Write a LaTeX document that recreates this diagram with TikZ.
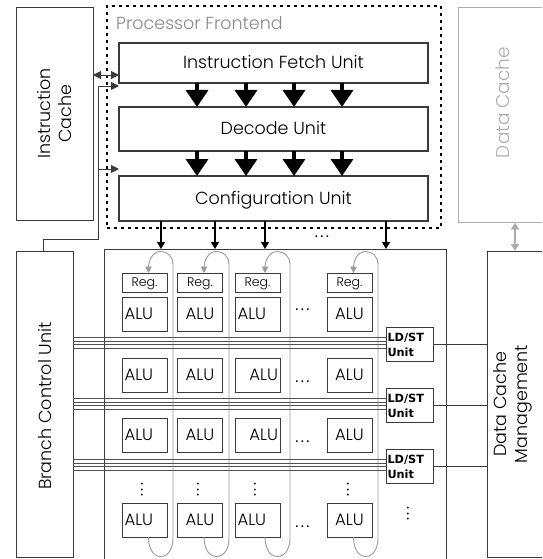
\documentclass[tikz,border=0pt]{standalone}
\usepackage{fontspec}
\setmainfont{Poppins}[UprightFont=* Light]
\newfontfamily\ldstfont{DejaVu Sans}
\newfontfamily\dotfont{Poppins}
\usetikzlibrary{arrows.meta,calc}
\definecolor{edge}{HTML}{3A3A3A}
\definecolor{pale}{HTML}{ADADAD}
\definecolor{loopc}{HTML}{9A9A9A}
\definecolor{titlec}{HTML}{8A8A8A}
\definecolor{busc}{HTML}{505050}
\begin{document}
\begin{tikzpicture}[x=1pt,y=-1pt,
  box/.style={draw=edge, line width=1pt, inner sep=0pt, outer sep=0pt},
  unitbox/.style={box, line width=1.3pt, minimum width=309pt, text height=12pt, text depth=0pt, font=\fontsize{17.5}{21}\selectfont},
  alubox/.style={box, minimum width=45pt, minimum height=34pt, text height=11pt, text depth=0pt, font=\fontsize{16.5}{19}\selectfont},
  aluL/.style={alubox, text width=40pt, align=left},
  aluR/.style={alubox, text width=41pt, align=right},
  regbox/.style={box, minimum width=45pt, minimum height=19pt, text height=8.8pt, text depth=0pt, font=\fontsize{12.5}{14}\selectfont},
  ldstbox/.style={box, minimum width=47pt, minimum height=34pt, text width=44pt, align=left, font=\ldstfont\bfseries\fontsize{11.3}{15}\selectfont},
  bigtext/.style={font=\fontsize{17.5}{21}\selectfont, inner sep=0pt},
  bigarrow/.style={draw=black, line width=3.5pt, -{Triangle[width=22pt,length=17pt]}},
  thinarrow/.style={draw=black, line width=1.1pt, -{Triangle[width=8pt,length=7pt]}},
  looparrow/.style={draw=loopc, line width=0.9pt, -{Triangle[width=6.5pt,length=6.5pt]}},
  bus/.style={draw=busc, line width=0.8pt},
  link/.style={draw=edge, line width=0.9pt},
  hdots/.style={font=\dotfont\fontsize{15}{16}\selectfont, inner sep=0pt},
]
\clip (0,0) rectangle (542,559);

% ---------- frontend ----------
\node[draw=black, line width=1.4pt, dash pattern=on 3pt off 4pt, minimum width=334pt, minimum height=222pt, inner sep=0pt] (frontend) at (274,117) {};
\node[anchor=base west, text=titlec, font=\fontsize{17.5}{20}\selectfont, inner sep=0pt] (fetitle) at (116,30) {Processor Frontend};
\node[unitbox, minimum height=40pt] (fetch) at (273.5,63) {Instruction Fetch Unit};
\node[unitbox, minimum height=44pt] (decode) at (273.5,129) {Decode Unit};
\node[unitbox, minimum height=45pt] (config) at (273.5,198.5) {Configuration Unit};
\foreach \x in {197,246,294,342} {
  \draw[bigarrow] (\x,0 |- fetch.south) -- (\x,0 |- decode.north);
  \draw[bigarrow] (\x,0 |- decode.south) -- (\x,0 |- config.north);
}

% ---------- caches ----------
\node[box, minimum width=77pt, minimum height=212pt] (icache) at (54.5,114) {};
\node[bigtext, rotate=90, align=center] (icachetext) at (54.5,113.5) {Instruction\\Cache};
\node[draw=pale, line width=1pt, minimum width=90pt, minimum height=214pt, inner sep=0pt] (dcache) at (503,115) {};
\node[bigtext, rotate=90, text=pale, font=\fontsize{18.5}{21}\selectfont] (dcachetext) at (503,102.5) {Data Cache};

\node[box, minimum width=60pt, minimum height=306pt] (dcm) at (517,404) {};
\node[bigtext, rotate=90, align=center] (dcmtext) at (513,404) {Data Cache\\Management};

\node[box, minimum width=57pt, minimum height=306pt] (bcu) at (44.5,404) {};
\node[bigtext, rotate=90] (bcutext) at (44.5,406) {Branch Control Unit};

% ---------- connections left ----------
\draw[link, {Triangle[width=8pt,length=8pt]}-{Triangle[width=8pt,length=8pt]}] (icache.east |- 0,75) -- (fetch.west |- 0,75);
\coordinate (j1) at (98.5,239);
\draw[link] (bcu.north -| 43,0) |- (j1) -- (98.5,86);
\draw[link, -{Triangle[width=8pt,length=8pt]}] (98.5,86) -- (fetch.west |- 0,86);
\draw[link, -{Triangle[width=8pt,length=8pt]}] (98.5,169) -- (config.west |- 0,169);

% data cache link
\draw[draw=pale, line width=1.8pt, {Triangle[width=8pt,length=7pt]}-{Triangle[width=8pt,length=7pt]}] (515,0 |- dcache.south) -- (515,0 |- dcm.north);

% ---------- array ----------
\node[box, minimum width=342pt, minimum height=320pt] (array) at (275,409) {};
\foreach \x in {161,215,265,386}
  \draw[thinarrow] (\x,0 |- config.south) -- (\x,0 |- array.north);
\node[hdots] (cdots) at (322,237) {.\hspace{2.4pt}.\hspace{2.4pt}.};

% registers
\node[regbox] (reg1) at (144.5,282.5) {Reg.};
\node[regbox] (reg2) at (200,282.5) {Reg.};
\node[regbox] (reg3) at (257.5,282.5) {Reg.};
\node[regbox] (reg4) at (349.5,282.5) {Reg.};

% ALUs
\foreach \r/\y in {1/314,2/375,3/435,4/520} {
  \node[aluL] (alu\r1) at (144.5,\y) {ALU};
  \node[alubox] (alu\r2) at (200,\y) {ALU};
  \node[alubox] (alu\r4) at (349.5,\y) {ALU};
}
\node[aluL] (alu13) at (257.5,314) {ALU};
\node[aluR] (alu23) at (257.5,375) {ALU};
\node[aluR] (alu33) at (257.5,435) {ALU};
\node[aluL] (alu43) at (257.5,520) {ALU};

% dots
\node[hdots] (d1) at (302.5,310) {.\hspace{2.4pt}.\hspace{2.4pt}.};
\node[hdots] (d2) at (302.5,382) {.\hspace{2.4pt}.\hspace{2.4pt}.};
\node[hdots] (d3) at (302.5,442) {.\hspace{2.4pt}.\hspace{2.4pt}.};
\node[hdots] (d4) at (302.5,527) {.\hspace{2.4pt}.\hspace{2.4pt}.};
\foreach \x/\n in {142/1,198/2,255/3,348/4}
  \node[hdots, rotate=-90] (v\n) at (\x,490) {.\hspace{2.4pt}.\hspace{2.4pt}.};
\node[hdots, rotate=-90] (vr) at (408,514) {.\hspace{2.4pt}.\hspace{2.4pt}.};

% feedback loops
\foreach \c/\ax/\vx in {1/148.5/173, 2/204/229, 3/265/290, 4/353.5/378} {
  \pgfmathsetmacro{\mx}{(\ax+\vx)/2}
  \draw[looparrow] (alu4\c.south -| \ax,0) to[out=-90,in=180] (\mx,556.5) to[out=0,in=-90] (\vx,538) -- (\vx,264) to[out=90,in=0] (\mx,251.5) to[out=180,in=90] (reg\c.north -| \ax,0);
}

% LD/ST units
\node[ldstbox] (ldst1) at (409.5,344.5) {LD/ST\\Unit};
\node[ldstbox] (ldst2) at (409.5,405.5) {LD/ST\\Unit};
\node[ldstbox] (ldst3) at (409.5,466.5) {LD/ST\\Unit};

% buses
\foreach \n in {1,2,3} {
  \foreach \o in {-7,-3.5,0,3.5} {
    \path (ldst\n.west) ++(0,\o) coordinate (b);
    \draw[bus] (b -| bcu.east) -- (b);
  }
  \draw[link] (ldst\n.east) -- (ldst\n.east -| dcm.west);
}
\end{tikzpicture}
\end{document}
